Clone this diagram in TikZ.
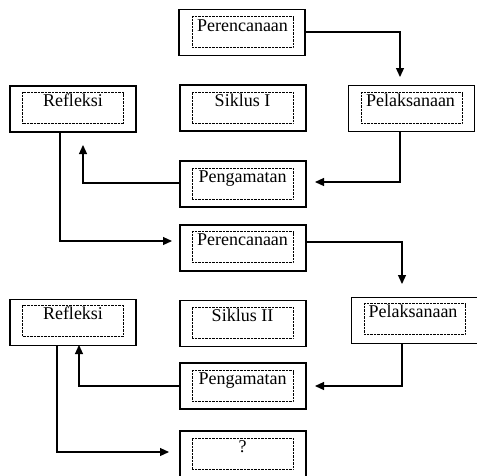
\documentclass[tikz,border=0pt]{standalone}
\usepackage{fontspec}
\setmainfont{Liberation Serif}
\usetikzlibrary{arrows.meta}
\begin{document}
\begin{tikzpicture}[x=1pt,y=-1pt,
  outer/.style={draw, line width=1.2pt, minimum width=126pt, minimum height=46pt, inner sep=0pt},
  inner/.style={draw, dash pattern=on 0.7pt off 0.7pt, line width=0.8pt, minimum width=101pt, minimum height=31pt, inner sep=0pt},
  lbl/.style={anchor=base, font=\fontsize{18}{18}\selectfont, inner sep=0pt},
  arr/.style={line width=1.2pt, -{Triangle[length=9pt,width=8pt]}}]
\useasboundingbox (0,0) rectangle (477,475);
% Cycle I
\node[outer] (p1) at (242,32.5) {};
\node[inner] (p1i) at (242.5,32) {};
\node[lbl] (p1t) at (242.5,31) {Perencanaan};
\node[outer] (s1) at (243,108) {};
\node[inner] (s1i) at (242.5,107.5) {};
\node[lbl] (s1t) at (242.5,106.5) {Siklus I};
\node[outer] (pl1) at (411.5,108.5) {};
\node[inner] (pl1i) at (411.5,108) {};
\node[lbl] (pl1t) at (410.5,106.5) {Pelaksanaan};
\node[outer] (r1) at (73,109) {};
\node[inner] (r1i) at (73,108) {};
\node[lbl] (r1t) at (73,106.5) {Refleksi};
\node[outer] (pg1) at (243,184) {};
\node[inner] (pg1i) at (242.5,183.5) {};
\node[lbl] (pg1t) at (242.5,182.5) {Pengamatan};
% Cycle II
\node[outer] (p2) at (243,248) {};
\node[inner] (p2i) at (242.5,247) {};
\node[lbl] (p2t) at (242.5,245.5) {Perencanaan};
\node[outer] (s2) at (243,323.5) {};
\node[inner] (s2i) at (242.5,322.5) {};
\node[lbl] (s2t) at (242.5,321) {Siklus II};
\node[outer] (pl2) at (414.5,320.5) {};
\node[inner] (pl2i) at (414.5,319) {};
\node[lbl] (pl2t) at (413,317.5) {Pelaksanaan};
\node[outer] (r2) at (73,322.5) {};
\node[inner] (r2i) at (73,320.5) {};
\node[lbl] (r2t) at (73,319.5) {Refleksi};
\node[outer] (pg2) at (243,386) {};
\node[inner] (pg2i) at (242.5,386) {};
\node[lbl] (pg2t) at (242.5,384.5) {Pengamatan};
\node[outer] (q) at (243,454) {};
\node[inner] (qi) at (242.5,453.5) {};
\node[lbl] (qt) at (242.5,452) {?};
% connector end points
\coordinate (c1) at (400,77);
\coordinate (c2) at (315,182);
\coordinate (c3) at (83,145);
\coordinate (c4) at (172,241);
\coordinate (c5) at (402,284);
\coordinate (c6) at (315,386);
\coordinate (c7) at (79,345);
\coordinate (c8) at (169,452);
% connectors
\draw[arr] (p1.east |- p1i.west) -| (c1);
\draw[arr] (pl1.south -| c1) |- (c2);
\draw[arr] (pg1.west |- 0,183) -| (c3);
\draw[arr] (r1.south -| 60,0) |- (c4);
\draw[arr] (p2.east |- 0,242) -| (c5);
\draw[arr] (pl2.south -| c5) |- (c6);
\draw[arr] (pg2.west) -| (c7);
\draw[arr] (r2.south -| 57,0) |- (c8);
\end{tikzpicture}
\end{document}
